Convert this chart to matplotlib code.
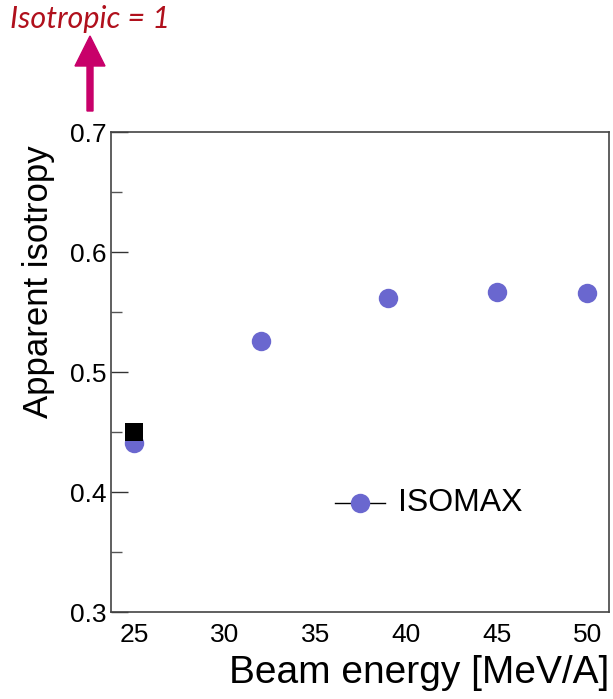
import matplotlib
matplotlib.use("Agg")
import matplotlib.pyplot as plt
from matplotlib.ticker import MultipleLocator

plt.rcParams["font.family"] = ["Liberation Sans", "DejaVu Sans"]

# Apparent isotropy versus beam energy
energy = [25, 32, 39, 45, 50]
isotropy = [0.441, 0.526, 0.562, 0.567, 0.566]
ref_energy = [25]
ref_isotropy = [0.450]
series_label = "ISOMAX"

fig = plt.figure(figsize=(6.13, 6.99), dpi=100)
ax = fig.add_axes([111 / 613, 1 - 612 / 699, 498 / 613, 480 / 699])

ax.plot(energy, isotropy, "o", color="#6a67cf", markersize=14, markeredgewidth=0,
        zorder=3)
ax.plot(ref_energy, ref_isotropy, "s", color="black", markersize=12.5,
        markeredgewidth=0, zorder=4)

ax.set_xlim(23.73, 51.2)
ax.set_ylim(0.3, 0.7)
ax.yaxis.set_minor_locator(MultipleLocator(0.05))
ax.set_yticks([0.3, 0.4, 0.5, 0.6, 0.7])
ax.set_yticklabels(["0.3", "0.4", "0.5", "0.6", "0.7"])
ax.set_xticks([25, 30, 35, 40, 45, 50])
ax.tick_params(axis="y", which="major", direction="in", length=12, width=1,
               labelsize=19, pad=3, color="#333333")
ax.tick_params(axis="y", which="minor", direction="in", length=8, width=1,
               color="#555555")
ax.tick_params(axis="x", which="major", length=0, labelsize=19, pad=8)
for s in ax.spines.values():
    s.set_color("#444444")
    s.set_linewidth(1.2)

ax.set_xlabel("Beam energy [MeV/A]", fontsize=28, loc="right", labelpad=6)
ax.set_ylabel("Apparent isotropy", fontsize=25, loc="top")
ax.yaxis.set_label_coords(-0.112, 0.973)

# Legend entry drawn by hand in axes coordinates
ax.plot([0.45, 0.55], [0.228, 0.228], color="black", lw=1, transform=ax.transAxes,
        zorder=3)
ax.plot([0.50], [0.228], "o", color="#6a67cf", markersize=14, markeredgewidth=0,
        transform=ax.transAxes, zorder=4)
ax.text(0.576, 0.228, series_label, fontsize=23, va="center", ha="left",
        transform=ax.transAxes)

# Annotation above the frame
fig.text(10 / 613, 1 - 19 / 699, "Isotropic = 1", fontsize=22, style="italic",
         family="Lato", color="#b0101c", va="center", ha="left")
fig.patches.append(matplotlib.patches.FancyArrow(
    90 / 613, 1 - 111 / 699, 0, 75 / 699, width=6 / 613,
    head_width=30 / 613, head_length=30 / 699, length_includes_head=True,
    color="#c8006a", transform=fig.transFigure, figure=fig))

fig.savefig("out.png", dpi=100)
